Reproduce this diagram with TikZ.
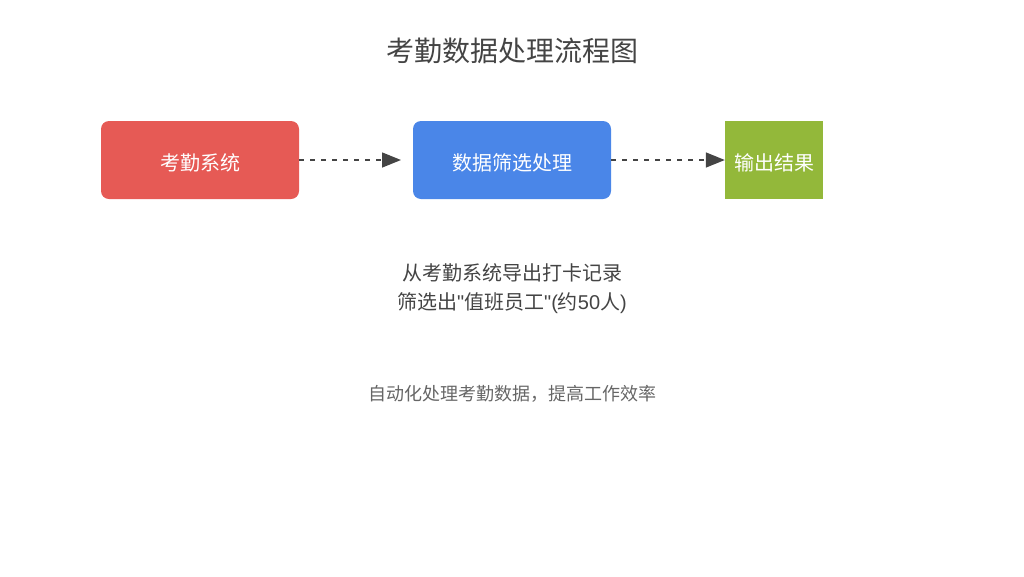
\documentclass[tikz,border=0pt]{standalone}
\usepackage{fontspec}
\setmainfont{Liberation Sans}
\newfontfamily\cjk{Noto Sans CJK SC}
\usetikzlibrary{arrows.meta}
\definecolor{boxred}{RGB}{230,90,85}
\definecolor{boxblue}{RGB}{74,134,232}
\definecolor{boxgreen}{RGB}{147,184,58}
\definecolor{txtdark}{RGB}{68,68,68}
\definecolor{txtgray}{RGB}{102,102,102}
\definecolor{arrowc}{RGB}{68,68,68}
\begin{document}
\begin{tikzpicture}[x=1pt,y=-1pt,
  box/.style={minimum height=78pt, inner sep=0pt, text=white, font=\cjk\fontsize{20pt}{24pt}\selectfont},
  boxlabel/.style={text=white, font=\cjk\fontsize{20pt}{24pt}\selectfont, inner sep=0pt},
  flow/.style={draw=arrowc, line width=1.5pt, dash pattern=on 5pt off 6pt, -{Triangle[length=19pt,width=15pt,fill=arrowc]}}
]
\useasboundingbox (0,0) rectangle (1024,576);
\node[font=\cjk\fontsize{28pt}{32pt}\selectfont, text=txtdark] (title) at (512,51) {考勤数据处理流程图};
\node[box, fill=boxred, rounded corners=8pt, minimum width=198pt] (a) at (200,160) {};
\node[box, fill=boxblue, rounded corners=8pt, minimum width=198pt] (b) at (512,160) {};
\node[box, fill=boxgreen, minimum width=98pt] (c) at (774,160) {};
\node[boxlabel] (al) at (200,163) {考勤系统};
\node[boxlabel] (bl) at (512,163) {数据筛选处理};
\node[boxlabel] (cl) at (774,163) {输出结果};
\coordinate (b1) at (401,160);
\draw[flow] (a.east) -- (b1);
\draw[flow] (b.east) -- (c.west);
\node[font=\cjk\fontsize{20pt}{30pt}\selectfont, text=txtdark] (desc1) at (512,273) {从考勤系统导出打卡记录};
\node[font=\cjk\fontsize{20pt}{30pt}\selectfont, text=txtdark] (desc2) at (512,303) {筛选出{\fontspec{Liberation Sans}"}值班员工{\fontspec{Liberation Sans}"(}约{\fontspec{Liberation Sans}50}人{\fontspec{Liberation Sans})}};
\node[font=\cjk\fontsize{18pt}{22pt}\selectfont, text=txtgray] (foot) at (512,394) {自动化处理考勤数据，提高工作效率};
\end{tikzpicture}
\end{document}
